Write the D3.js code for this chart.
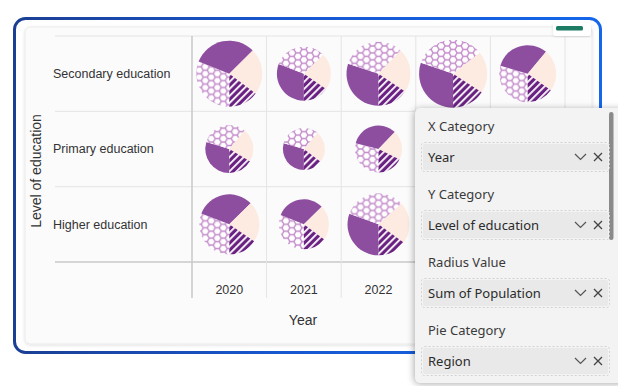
<!DOCTYPE html>
<html>
<head>
<meta charset="utf-8">
<script src="https://cdn.jsdelivr.net/npm/d3@7"></script>
<style>
  body { margin: 0; background: #fff; }
  svg text { font-family: "Liberation Sans", Arial, sans-serif; }
  .panel text { font-family: "Noto Sans", "Open Sans", sans-serif; }
</style>
</head>
<body>
<svg id="chart" width="618" height="386"></svg>
<script>
let years = ["2020", "2021", "2022", "2023", "2024"];
let levels = ["Secondary education", "Primary education", "Higher education"];
let regions = ["East", "North", "South", "West"];

// population by region, one entry per level x year, row by row
let east  = [357, 233, 319, 362, 266, 178, 135, 191, 190, 150, 297, 205, 305, 320, 235];
let north = [350, 242, 341, 411, 249, 187, 146, 166, 200, 140, 288, 202, 327, 340, 220];
let south = [257, 166, 238, 237, 201, 135, 111, 116, 150, 120, 204, 147, 216, 240, 175];
let west  = [166, 116, 165, 190, 127,  98,  67, 101, 109,  92, 145,  96, 150, 163, 127];

let fieldLabels = ["X Category", "Y Category", "Radius Value", "Pie Category"];
let fieldValues = ["Year", "Level of education", "Sum of Population", "Region"];

let series = [east, north, south, west];
let regionFill = {East: "#8e4ea0", North: "url(#hex)", South: "#fdeae1", West: "url(#stripes)"};

let panelLeft = 415;
let panelTop = 108;

let svg = d3.select("#chart");
let defs = svg.append("defs");

// blue frame gradient
let grad = defs.append("linearGradient").attr("id", "frame").attr("x1", 0).attr("x2", 1);
grad.append("stop").attr("offset", "0%").attr("stop-color", "#1b3f93");
grad.append("stop").attr("offset", "45%").attr("stop-color", "#1757cf");
grad.append("stop").attr("offset", "100%").attr("stop-color", "#1466ea");

let shadow = defs.append("filter").attr("id", "shadow")
  .attr("x", "-20%").attr("y", "-20%").attr("width", "140%").attr("height", "140%");
shadow.append("feDropShadow").attr("dx", -1).attr("dy", 1).attr("stdDeviation", 3.5)
  .attr("flood-color", "#000").attr("flood-opacity", 0.32);

let soft = defs.append("filter").attr("id", "soft")
  .attr("x", "-10%").attr("y", "-10%").attr("width", "120%").attr("height", "120%");
soft.append("feDropShadow").attr("dx", 0).attr("dy", 1).attr("stdDeviation", 1.5)
  .attr("flood-color", "#000").attr("flood-opacity", 0.12);

// honeycomb fill
let s = 4, hh = Math.sqrt(3) * s;
let hex = defs.append("pattern").attr("id", "hex").attr("patternUnits", "userSpaceOnUse")
  .attr("width", 3 * s).attr("height", hh);
hex.append("rect").attr("width", 3 * s).attr("height", hh).attr("fill", "#c48ccb");
let hexPts = d3.range(6).map(k => {
  let a = k * Math.PI / 3;
  return [(s - 0.8) * Math.cos(a), (s - 0.8) * Math.sin(a)];
});
[[0, 0], [3 * s, 0], [0, hh], [3 * s, hh], [1.5 * s, hh / 2]].forEach(c => {
  hex.append("polygon")
    .attr("points", hexPts.map(p => [p[0] + c[0], p[1] + c[1]].join(",")).join(" "))
    .attr("fill", "#fff");
});

// diagonal stripes
let stripes = defs.append("pattern").attr("id", "stripes").attr("patternUnits", "userSpaceOnUse")
  .attr("width", 5).attr("height", 5).attr("patternTransform", "rotate(45)");
stripes.append("rect").attr("width", 5).attr("height", 5).attr("fill", "#6a2182");
stripes.append("rect").attr("width", 1.8).attr("height", 5).attr("fill", "#fff");

// frame and card
svg.append("rect")
  .attr("x", 14.5).attr("y", 18.5).attr("width", 586).attr("height", 334).attr("rx", 11)
  .attr("fill", "#fff").attr("stroke", "url(#frame)").attr("stroke-width", 3);

svg.append("rect")
  .attr("x", 25).attr("y", 27).attr("width", 567).attr("height", 317).attr("rx", 5)
  .attr("fill", "#fbfbfc").attr("stroke", "#ebebeb").attr("filter", "url(#soft)");

let x = d3.scaleBand().domain(years).range([192, 565]);
let y = d3.scaleBand().domain(levels).range([36, 262]);

let grid = svg.append("g");
let rowEdges = levels.map(d => y(d)).concat([y.range()[1]]);
let colEdges = years.map(d => x(d)).concat([x.range()[1]]);

grid.selectAll(".hline").data(rowEdges).enter().append("line")
  .attr("x1", 55).attr("x2", 590)
  .attr("y1", d => d).attr("y2", d => d)
  .attr("stroke", (d, i) => i === rowEdges.length - 1 ? "#c9c9c9" : "#e4e4e4")
  .attr("stroke-width", (d, i) => i === rowEdges.length - 1 ? 1.5 : 1);

grid.selectAll(".vline").data(colEdges).enter().append("line")
  .attr("x1", d => d).attr("x2", d => d)
  .attr("y1", 36).attr("y2", 298)
  .attr("stroke", (d, i) => i === 0 ? "#c9c9c9" : "#e4e4e4")
  .attr("stroke-width", (d, i) => i === 0 ? 1.5 : 1);

// little tab at top right
svg.append("rect").attr("x", 553).attr("y", 23).attr("width", 38).attr("height", 13).attr("rx", 3)
  .attr("fill", "#fff").attr("filter", "url(#soft)");
svg.append("rect").attr("x", 556).attr("y", 26).attr("width", 27).attr("height", 4.5).attr("rx", 1.5)
  .attr("fill", "#1d7a63");

// labels
svg.append("g").selectAll("text").data(levels).enter().append("text")
  .attr("x", 53).attr("y", d => y(d) + y.bandwidth() / 2)
  .attr("dy", "0.35em").attr("font-size", 12.5).attr("fill", "#333")
  .text(d => d);

// year ticks that sit under the field panel are covered in the picture
let xAxis = svg.append("g").attr("transform", "translate(0,285)")
  .call(d3.axisBottom(x).tickSize(0).tickPadding(0));
xAxis.select(".domain").remove();
xAxis.selectAll(".tick").filter(d => x(d) + x.bandwidth() / 2 > panelLeft).remove();
xAxis.selectAll("text").attr("font-size", 12.5).attr("fill", "#333")
  .style("font-family", "'Liberation Sans', Arial, sans-serif");

svg.append("text")
  .attr("transform", "translate(41,171) rotate(-90)")
  .attr("text-anchor", "middle").attr("font-size", 14).attr("fill", "#333")
  .text("Level of education");

svg.append("text")
  .attr("x", 303).attr("y", 325)
  .attr("text-anchor", "middle").attr("font-size", 14).attr("fill", "#333")
  .text("Year");

// pies
let cells = [];
levels.forEach((level, li) => {
  years.forEach((year, yi) => {
    let i = li * years.length + yi;
    let slices = regions.map((r, k) => ({region: r, value: series[k][i]}));
    // the two large regions go smaller first, then South and West
    let big = slices.slice(0, 2).sort((a, b) => a.value - b.value);
    cells.push({level: level, year: year, slices: big.concat(slices.slice(2)),
      total: d3.sum(slices, d => d.value)});
  });
});

let radius = d3.scaleSqrt().domain([0, d3.max(cells, d => d.total)]).range([0, 34]);
let pie = d3.pie().sort(null).value(d => d.value).startAngle(Math.PI).endAngle(3 * Math.PI);

let pies = svg.append("g").selectAll("g").data(cells).enter().append("g")
  .attr("transform", d => `translate(${x(d.year) + x.bandwidth() / 2},${y(d.level) + y.bandwidth() / 2})`);

pies.selectAll("path")
  .data(d => pie(d.slices).map(p => Object.assign(p, {r: radius(d.total)})))
  .enter().append("path")
  .attr("d", d => d3.arc().innerRadius(0).outerRadius(d.r)(d))
  .attr("fill", d => regionFill[d.data.region]);

// field well panel
let panel = svg.append("g").attr("class", "panel");
panel.append("rect")
  .attr("x", panelLeft).attr("y", panelTop).attr("width", 215).attr("height", 275).attr("rx", 6)
  .attr("fill", "#f3f3f3").attr("filter", "url(#shadow)");
panel.append("rect")
  .attr("x", 609).attr("y", 112).attr("width", 4.5).attr("height", 128).attr("rx", 2.2)
  .attr("fill", "#8a8a8a");

let field = panel.selectAll(".field").data(fieldLabels).enter().append("g")
  .attr("transform", (d, i) => `translate(0,${i * 68})`);

field.append("text")
  .attr("x", 428).attr("y", 126).attr("dy", "0.35em")
  .attr("font-size", 13).attr("fill", "#3a3a3a")
  .text(d => d);

field.append("rect")
  .attr("x", 421.5).attr("y", 142.5).attr("width", 188).attr("height", 29).attr("rx", 3)
  .attr("fill", "none").attr("stroke", "#d2d2d2").attr("stroke-dasharray", "2,2");
field.append("rect")
  .attr("x", 423).attr("y", 144).attr("width", 185).attr("height", 26).attr("rx", 2)
  .attr("fill", "#e9e9e9");

field.append("text")
  .attr("x", 428).attr("y", 157).attr("dy", "0.35em")
  .attr("font-size", 13).attr("fill", "#2b2b2b")
  .text((d, i) => fieldValues[i]);

field.append("path")
  .attr("d", "M575,154 L580.5,159.5 L586,154")
  .attr("fill", "none").attr("stroke", "#555").attr("stroke-width", 1.2);
field.append("path")
  .attr("d", "M594,153 L602,161 M602,153 L594,161")
  .attr("fill", "none").attr("stroke", "#444").attr("stroke-width", 1.3);
</script>
</body>
</html>
